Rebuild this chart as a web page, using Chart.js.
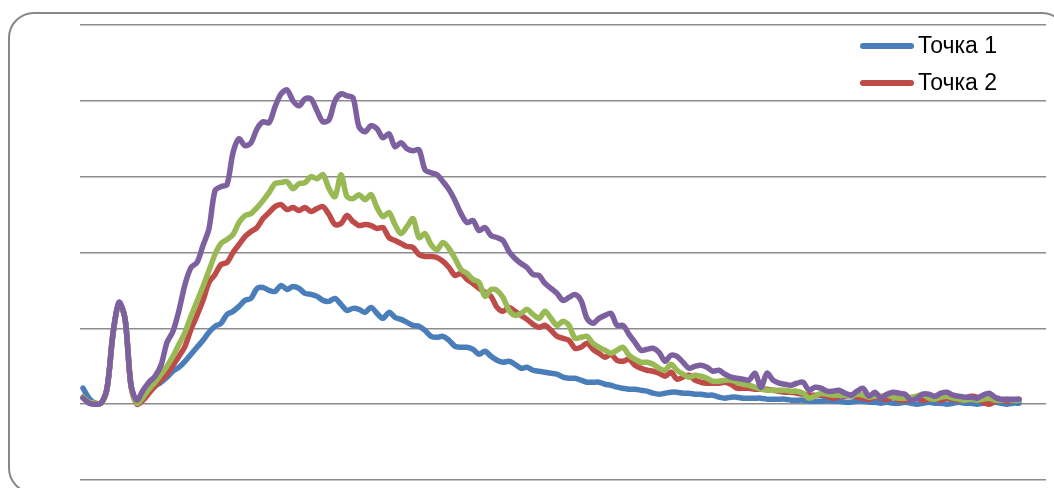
<!DOCTYPE html>
<html lang="ru">
<head>
    <meta charset="UTF-8">
    <title>Точки</title>
    <script src="https://cdn.jsdelivr.net/npm/chart.js"></script>
    <style>
        body { margin: 0; background: #fff; font-family: "Liberation Sans", Arial, sans-serif; overflow: hidden; }
        .frame { position: absolute; left: 8px; top: 12px; width: 1056px; height: 478px; border: 2px solid #878787; border-radius: 26px; }
        .wrap { position: absolute; left: 0; top: 0; width: 1054px; height: 488px; }
        .legend { position: absolute; left: 860px; top: 27px; }
        .legend-item { display: flex; align-items: center; height: 37px; font-size: 23px; color: #000; }
        .legend-line { width: 54px; height: 6px; border-radius: 3px; margin-right: 4px; }
    </style>
</head>
<body>
    <div class="frame"></div>
    <div class="wrap"><canvas id="chart" width="1054" height="488"></canvas></div>
    <div class="legend" id="legend"></div>

    <script>
        // sample numbers along the x axis
        const samples = Array.from({ length: 157 }, (_, i) => i);

        const point1 = [16, 6, 1, 1, 16, 71, 102, 86, 19, 2, 8, 13, 18, 22, 27, 33, 37, 43, 50, 57,
            64, 72, 78, 81, 90, 93, 98, 104, 106, 116, 117, 114, 113, 119, 115, 118, 116, 111, 110, 108,
            104, 103, 106, 100, 94, 96, 95, 92, 97, 91, 86, 92, 87, 85, 82, 79, 78, 74, 68, 67,
            68, 64, 58, 57, 57, 55, 50, 53, 48, 44, 42, 43, 40, 36, 37, 34, 33, 32, 31, 30,
            27, 26, 26, 24, 22, 22, 22, 20, 19, 17, 16, 15, 15, 14, 13, 11, 10, 11, 12, 12,
            11, 11, 10, 10, 9, 9, 7, 6, 7, 7, 6, 6, 6, 6, 5, 5, 5, 5, 4, 4,
            4, 3, 3, 3, 4, 3, 3, 2, 2, 3, 3, 2, 2, 1, 2, 1, 1, 2, 1, 0,
            1, 2, 1, 1, 0, 1, 2, 1, 1, 0, 1, 1, 2, 1, 0, 1, 1];

        const point2 = [7, 2, 1, 1, 15, 70, 101, 86, 18, 0, 4, 11, 18, 24, 30, 39, 48, 58, 75, 89,
            104, 122, 130, 140, 142, 152, 160, 168, 173, 177, 186, 192, 198, 200, 195, 197, 194, 197, 193, 196,
            198, 190, 180, 181, 189, 183, 179, 180, 179, 176, 177, 167, 164, 161, 158, 157, 150, 148, 148, 147,
            143, 137, 129, 131, 125, 121, 116, 112, 108, 97, 93, 97, 93, 89, 85, 80, 77, 79, 74, 68,
            66, 64, 56, 57, 61, 55, 51, 47, 50, 44, 43, 45, 39, 36, 34, 33, 31, 28, 32, 25,
            27, 29, 24, 22, 21, 21, 21, 22, 20, 16, 16, 16, 15, 15, 15, 14, 13, 12, 12, 11,
            10, 9, 9, 9, 8, 6, 8, 8, 9, 7, 6, 5, 7, 6, 5, 7, 4, 4, 5, 6,
            4, 5, 5, 4, 6, 5, 4, 6, 8, 7, 2, 0, 3, 4, 3, 4, 5];

        const point3 = [7, 2, 1, 1, 15, 70, 101, 86, 18, 1, 7, 15, 22, 30, 38, 48, 60, 72, 88, 103,
            118, 134, 150, 161, 165, 170, 182, 189, 191, 197, 204, 212, 221, 222, 223, 216, 221, 222, 228, 226,
            230, 216, 208, 230, 208, 206, 210, 205, 210, 197, 188, 192, 180, 171, 178, 186, 167, 171, 160, 155,
            162, 156, 146, 135, 131, 125, 122, 108, 115, 114, 107, 94, 89, 91, 95, 90, 86, 93, 86, 79,
            83, 79, 66, 67, 68, 61, 57, 54, 51, 54, 57, 49, 45, 42, 42, 40, 36, 34, 40, 34,
            30, 27, 29, 28, 26, 23, 23, 24, 24, 22, 20, 19, 17, 15, 14, 14, 14, 14, 13, 13,
            11, 6, 8, 11, 10, 9, 9, 9, 8, 10, 9, 7, 8, 8, 9, 7, 6, 6, 7, 8,
            10, 6, 5, 7, 8, 6, 5, 4, 5, 4, 5, 6, 4, 4, 5, 4, 4];

        const point4 = [6, 1, 0, 1, 16, 71, 102, 86, 19, 4, 14, 22, 28, 39, 62, 73, 94, 120, 137, 142,
            159, 176, 214, 218, 220, 252, 266, 259, 262, 276, 283, 282, 298, 311, 315, 304, 299, 306, 306, 294,
            283, 285, 304, 311, 309, 307, 278, 273, 279, 276, 267, 271, 258, 262, 256, 254, 255, 235, 232, 230,
            223, 215, 204, 191, 182, 184, 174, 177, 169, 167, 164, 153, 146, 141, 137, 130, 129, 121, 116, 111,
            104, 107, 110, 104, 86, 81, 86, 89, 91, 79, 79, 70, 62, 54, 55, 56, 52, 43, 49, 48,
            42, 36, 38, 39, 37, 33, 34, 30, 27, 26, 25, 24, 31, 17, 31, 24, 21, 20, 19, 21,
            22, 14, 17, 16, 13, 13, 14, 11, 9, 13, 16, 8, 12, 6, 10, 12, 11, 10, 4, 6,
            10, 10, 8, 11, 12, 9, 8, 7, 7, 6, 9, 11, 7, 5, 5, 5, 5];

        const seriesNames = ['Точка 1', 'Точка 2', 'Точка 3', 'Точка 4'];
        const seriesColors = ['#4a7ebb', '#be4b48', '#98b954', '#7d60a0'];
        const seriesValues = [point1, point2, point3, point4];

        const datasets = seriesValues.map((vals, k) => ({
            label: seriesNames[k],
            data: vals.map((v, i) => ({ x: samples[i], y: v })),
            borderColor: seriesColors[k],
            borderWidth: 5.5,
            pointRadius: 0,
            tension: 0.3,
            borderCapStyle: 'round',
            borderJoinStyle: 'round',
            fill: false,
            order: 3 - k
        }));

        new Chart(document.getElementById('chart'), {
            type: 'line',
            data: { datasets: datasets },
            options: {
                responsive: false,
                animation: false,
                layout: { padding: { left: 80, top: 25, right: 8, bottom: 8 } },
                plugins: { legend: { display: false }, tooltip: { enabled: false } },
                scales: {
                    x: { type: 'linear', min: -0.5, max: 160.5, display: false },
                    y: {
                        min: -76, max: 380,
                        ticks: { stepSize: 76, display: false },
                        border: { display: false },
                        grid: { color: '#8c8c8c', lineWidth: 1.5, drawTicks: false },
                        afterFit: s => { s.width = 0; }
                    }
                }
            }
        });

        // legend shows the first two series only, like the original
        const legend = document.getElementById('legend');
        [0, 1].forEach(k => {
            const item = document.createElement('div');
            item.className = 'legend-item';
            item.innerHTML = '<span class="legend-line" style="background:' + seriesColors[k] + '"></span>' + seriesNames[k];
            legend.appendChild(item);
        });
    </script>
</body>
</html>
